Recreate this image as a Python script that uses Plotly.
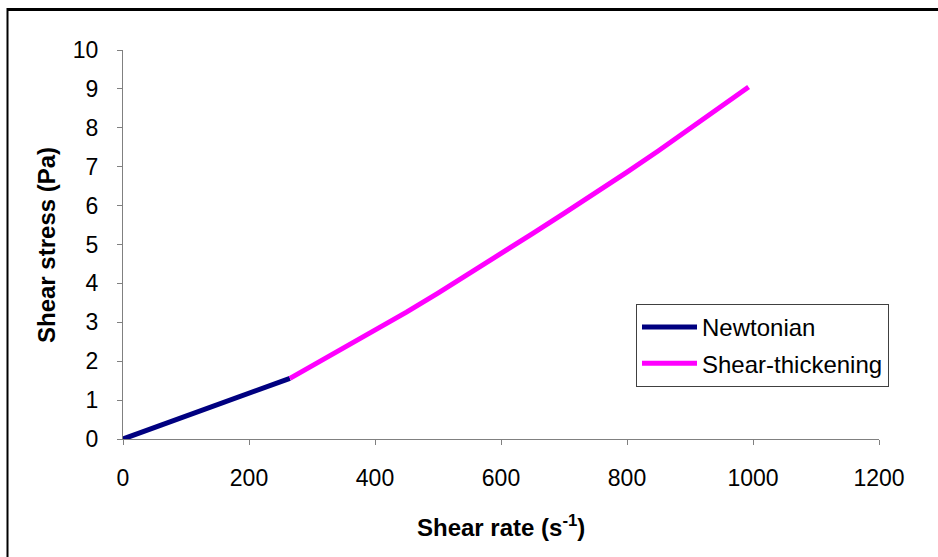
import plotly.graph_objects as go

# Data
newt_rate = [0, 25, 50, 75, 100, 125, 150, 175, 200, 225, 250, 265]
newt_stress = [0.0, 0.15, 0.30, 0.45, 0.60, 0.75, 0.90, 1.04, 1.19, 1.33, 1.47, 1.56]

thick_rate = [265, 300, 350, 400, 450, 500, 550, 600, 650, 700, 750, 800, 850, 900, 950, 993]
thick_stress = [1.56, 1.88, 2.33, 2.79, 3.26, 3.75, 4.25, 4.76, 5.28, 5.80, 6.32, 6.86, 7.41, 7.97, 8.54, 9.05]

x_ticks = [0, 200, 400, 600, 800, 1000, 1200]
y_ticks = [0, 1, 2, 3, 4, 5, 6, 7, 8, 9, 10]

FONT = "Liberation Sans, Arial, sans-serif"
AXIS_GREY = "#808080"

W, H = 938, 557
L, R, T, B = 123, 938 - 879, 50, 557 - 439
PW, PH = W - L - R, H - T - B

def px_to_paper_x(px):
    return (px - L) / PW

def px_to_paper_y(py):
    return (H - B - py) / PH

fig = go.Figure()
fig.add_trace(go.Scatter(x=newt_rate, y=newt_stress, mode="lines", name="Newtonian",
                         legendgroup="a",
                         line=dict(color="#000080", width=5)))
fig.add_trace(go.Scatter(x=thick_rate, y=thick_stress, mode="lines", name="Shear-thickening",
                         legendgroup="b",
                         line=dict(color="#FF00FF", width=5)))

fig.update_layout(
    width=W, height=H,
    margin=dict(l=L, r=R, t=T, b=B, pad=0),
    paper_bgcolor="white", plot_bgcolor="white",
    font=dict(family=FONT, color="black", size=23),
    showlegend=True,
    legend=dict(
        x=px_to_paper_x(636), y=px_to_paper_y(304), xanchor="left", yanchor="top",
        bordercolor="#404040", borderwidth=1, bgcolor="white",
        font=dict(family=FONT, size=24, color="black"),
        tracegroupgap=2, itemwidth=55,
    ),
)

fig.update_xaxes(
    range=[0, 1200], tickvals=x_ticks, ticktext=[str(v) for v in x_ticks],
    showgrid=False, zeroline=False, showline=True, linecolor=AXIS_GREY, linewidth=1,
    ticks="outside", ticklen=5, tickcolor=AXIS_GREY, tickwidth=1,
    tickfont=dict(family=FONT, size=23, color="black"), ticklabelstandoff=13,
)
fig.update_yaxes(
    range=[0, 10], tickvals=y_ticks, ticktext=[str(v) for v in y_ticks],
    showgrid=False, zeroline=False, showline=True, linecolor=AXIS_GREY, linewidth=1,
    ticks="outside", ticklen=5, tickcolor=AXIS_GREY, tickwidth=1,
    tickfont=dict(family=FONT, size=23, color="black"), ticklabelstandoff=14,
)

# Axis titles as annotations for precise placement
fig.add_annotation(text="<b>Shear rate (s<sup>-1</sup>)</b>", xref="paper", yref="paper",
                   x=px_to_paper_x(501), y=px_to_paper_y(526), xanchor="center", yanchor="middle",
                   showarrow=False, font=dict(family=FONT, size=24, color="black"))
fig.add_annotation(text="<b>Shear stress (Pa)</b>", xref="paper", yref="paper",
                   x=px_to_paper_x(47), y=px_to_paper_y(245), xanchor="center", yanchor="middle",
                   textangle=-90, showarrow=False, font=dict(family=FONT, size=24, color="black"))

# Outer chart border (top and left visible; right/bottom run off the picture)
fig.add_shape(type="line", xref="paper", yref="paper",
              x0=px_to_paper_x(7), x1=px_to_paper_x(960), y0=px_to_paper_y(9.5), y1=px_to_paper_y(9.5),
              line=dict(color="black", width=3))
fig.add_shape(type="line", xref="paper", yref="paper",
              x0=px_to_paper_x(7.5), x1=px_to_paper_x(7.5), y0=px_to_paper_y(8), y1=px_to_paper_y(600),
              line=dict(color="black", width=2))

fig.write_html("out.html")
